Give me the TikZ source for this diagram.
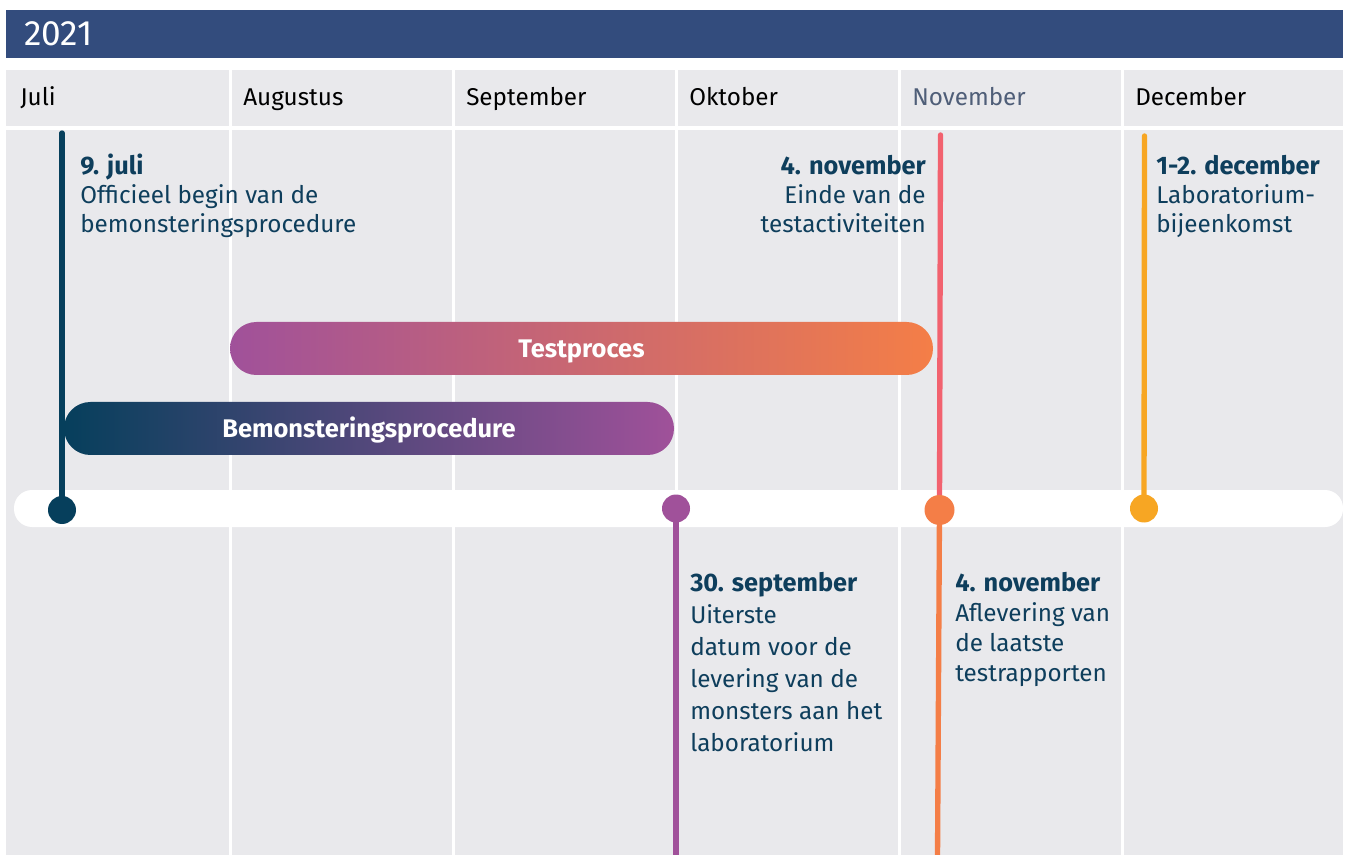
\documentclass[tikz,border=0pt]{standalone}
\usepackage{fontspec}
\setmainfont{Fira Sans}
\usetikzlibrary{positioning}
\definecolor{kop}{HTML}{334C7D}
\definecolor{vak}{HTML}{E9E9EC}
\definecolor{navy}{HTML}{063F5C}
\definecolor{tekst}{HTML}{0E3E5C}
\definecolor{paars}{HTML}{A0519A}
\definecolor{rood}{HTML}{F2626F}
\definecolor{oranje}{HTML}{F47E47}
\definecolor{geel}{HTML}{F7A623}
\definecolor{grijsblauw}{HTML}{4F5E78}
\newcommand{\kopje}[1]{{\fontsize{19}{21.75}\selectfont\bfseries #1}}
\tikzset{x=.75pt,y=-.75pt,
  maand/.style={anchor=base west,inner sep=0pt,font=\fontsize{18.2}{20}\selectfont},
  gebeurtenis/.style={align=left,inner sep=0pt,text=tekst,font=\fontsize{18.2}{21.75}\selectfont},
  stip/.style={circle,inner sep=0pt,minimum size=21pt},
  steel/.style={line width=4pt,line cap=round},
  balk/.style={rounded corners=19.8pt,minimum height=39.75pt,inner sep=0pt,
    text height=14.25pt,text depth=0pt,text=white,font=\fontsize{19.1}{20}\selectfont\bfseries}}

\begin{document}
\begin{tikzpicture}
\useasboundingbox (0,0) rectangle (1346,855);
% Kopbalk met het jaartal.
\fill[kop] (6,10) rectangle (1343,58);
\node[anchor=base west,inner sep=0pt,text=white,font=\fontsize{26.4}{28}\selectfont] (jaar) at (24,46) {2021};
% Grijze kolommen, een per maand.
\fill[vak] (6,70) rectangle (1343,855);
\draw[white,line width=3pt] (6,128.5)--(1343,128.5);
\foreach \x in {230.5,453.5,676.5,899.5,1122.5}
  \draw[white,line width=2.2pt] (\x,70)--(\x,855);
\foreach \m [count=\i from 0] in {Juli,Augustus,September,Oktober,,December}
  \node[maand] (maand\i) at (20+223*\i,106) {\m};
\node[maand,text=grijsblauw] (maand4) at (912,106) {November};
% Tijdlijn.
\fill[white,rounded corners=13.5pt] (14,490) rectangle (1343,527);
% Periodebalken.
\node[balk,left color=paars,right color=oranje,minimum width=527.25pt] (testproces) at (581.5,348.5) {Testproces};
\node[balk,left color=navy,right color=paars,minimum width=457.5pt] (bemonstering) at (369,428.5) {Bemonsteringsprocedure};
% Mijlpalen op de tijdlijn.
\coordinate (julitop) at (62,133);
\coordinate (novtop) at (940.5,135);
\coordinate (dectop) at (1144.5,136);
\coordinate (septbodem) at (676,860);
\coordinate (novbodem) at (937.5,860);
\node[stip] (julistip) at (62,510) {};
\node[stip] (septstip) at (676,508.5) {};
\node[stip,minimum size=22.5pt] (novstip) at (939.5,510) {};
\node[stip] (decstip) at (1144,508.5) {};
\draw[steel,navy] (julistip.center)--(julitop);
\draw[steel,rood] (novstip.center)--(novtop);
\draw[steel,geel] (decstip.center)--(dectop);
\draw[steel,paars] (septstip.center)--(septbodem);
\draw[steel,oranje] (novstip.center)--(novbodem);
\fill[navy] (julistip) circle (14);
\fill[paars] (septstip) circle (14);
\fill[oranje] (novstip) circle (15);
\fill[geel] (decstip) circle (14);
% Teksten bij de mijlpalen (base = onderkant van de laatste regel).
\node[gebeurtenis,anchor=base west] (juli) at (80,233)
  {\kopje{9. juli}\\Officieel begin van de\\bemonsteringsprocedure};
\node[gebeurtenis,anchor=base east,align=right] (einde) at (926,233)
  {\kopje{4. november}\\Einde van de\\testactiviteiten};
\node[gebeurtenis,anchor=base west] (bijeenkomst) at (1156,233)
  {\kopje{1-2. december}\\Laboratorium-\\bijeenkomst};
\node[gebeurtenis,anchor=base west,font=\fontsize{18.2}{24}\selectfont] (uiterste) at (690,751)
  {\kopje{30. september}\\Uiterste\\datum voor de\\levering van de\\monsters aan het\\laboratorium};
\node[gebeurtenis,anchor=base west,font=\fontsize{18.2}{22.5}\selectfont] (aflevering) at (955,681)
  {\kopje{4. november}\\Aflevering van\\de laatste\\testrapporten};
\end{tikzpicture}
\end{document}
